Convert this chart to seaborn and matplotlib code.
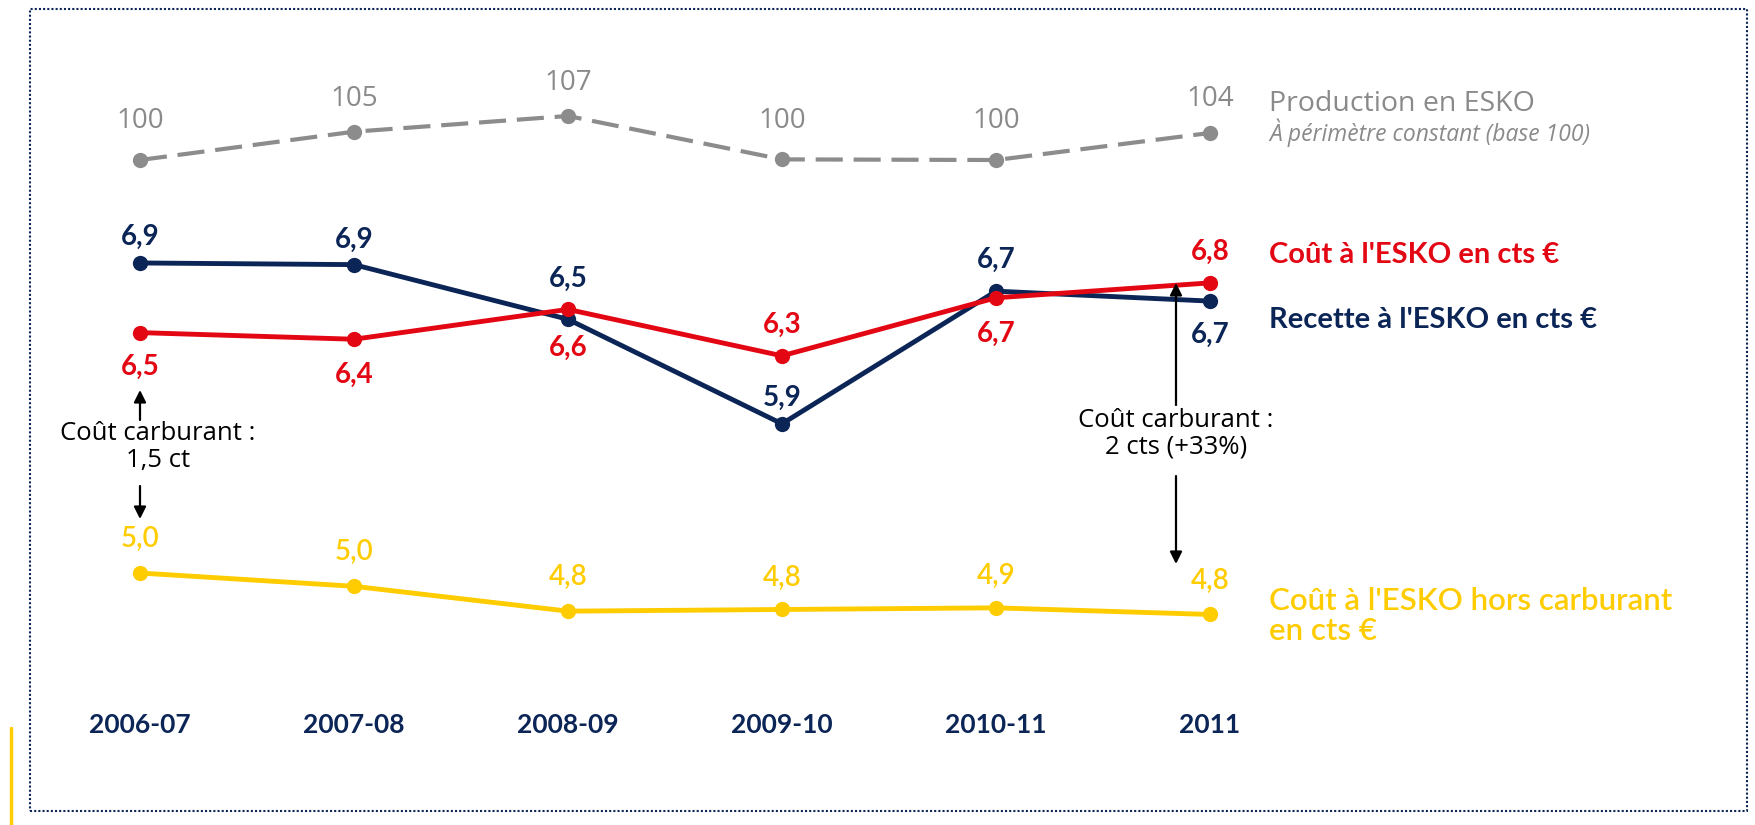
import pandas as pd
import seaborn as sns
import matplotlib.pyplot as plt
from matplotlib.patches import Rectangle, FancyArrowPatch
from matplotlib.lines import Line2D

# --------------------------------- données --------------------------------- #
PERIODES = ["2006-07", "2007-08", "2008-09", "2009-10", "2010-11", "2011"]

production = [100, 104.5, 107, 100.1, 100, 104.3]
production_labels = ["100", "105", "107", "100", "100", "104"]

recette = [6.90, 6.89, 6.56, 5.93, 6.73, 6.67]
recette_labels = ["6,9", "6,9", "6,5", "5,9", "6,7", "6,7"]

cout = [6.48, 6.44, 6.62, 6.34, 6.69, 6.78]
cout_labels = ["6,5", "6,4", "6,6", "6,3", "6,7", "6,8"]

cout_hors_carburant = [5.03, 4.95, 4.80, 4.81, 4.82, 4.78]
cout_hors_carburant_labels = ["5,0", "5,0", "4,8", "4,8", "4,9", "4,8"]

# -------------------------------- couleurs -------------------------------- #
NAVY = "#0b2557"
RED = "#e30613"
YELLOW = "#ffcc00"
GRAY = "#8c8c8c"
GRAY_TXT = "#8a8a8a"

W, H = 1756, 825

def px(x, y):
    # pixels (depuis le haut) -> fraction de la figure
    return (x / W, 1 - y / H)

df = pd.DataFrame({
    "idx": range(len(PERIODES)),
    "production": production,
    "recette": recette,
    "cout": cout,
    "cout_hc": cout_hors_carburant,
})

sns.set_theme(style="white")
plt.rcParams["font.family"] = ["Lato", "DejaVu Sans"]

fig = plt.figure(figsize=(W / 100, H / 100), dpi=100)
ax = fig.add_axes([0, 120 / H, 1, 705 / H])
ax.set_xlim(-0.654, 7.551)
ax.set_ylim(4.234, 8.486)

# production sur un second axe (base 100)
ax2 = ax.twinx()
ax2.set_ylim(13.35, 125.44)

# lignes
sns.lineplot(data=df, x="idx", y="production", ax=ax2, color=GRAY, linewidth=3,
             marker="o", markersize=11, markeredgewidth=0)
ax2.lines[0].set_linestyle((0, (6.5, 2.6)))

sns.lineplot(data=df, x="idx", y="recette", ax=ax, color=NAVY, linewidth=3.5,
             marker="o", markersize=11, markeredgewidth=0)
sns.lineplot(data=df, x="idx", y="cout", ax=ax, color=RED, linewidth=3.5,
             marker="o", markersize=11, markeredgewidth=0)
sns.lineplot(data=df, x="idx", y="cout_hc", ax=ax, color=YELLOW, linewidth=3.5,
             marker="o", markersize=11, markeredgewidth=0)

# étiquettes de valeurs (décalage en pixels, positif vers le haut)
def etiquettes(axe, valeurs, labels, decalages, couleur, **kw):
    for i, (v, lab, d) in enumerate(zip(valeurs, labels, decalages)):
        axe.annotate(lab, (i, v), xytext=(0, d), textcoords="offset pixels",
                     ha="center", va="center", color=couleur, **kw)

etiquettes(ax2, production, production_labels, [39, 33, 33, 38, 39, 34], GRAY_TXT,
           fontsize=20, fontweight="normal", family=["Open Sans", "DejaVu Sans"])
etiquettes(ax, recette, recette_labels, [26, 25, 40, 26, 31, -34], NAVY,
           fontsize=20, fontweight="bold")
etiquettes(ax, cout, cout_labels, [-34, -36, -38, 31, -36, 31], RED,
           fontsize=20, fontweight="bold")
etiquettes(ax, cout_hors_carburant, cout_hors_carburant_labels, [34, 34, 34, 32, 32, 34],
           YELLOW, fontsize=20, fontweight="semibold")

# axes
ax.set_xticks(range(len(PERIODES)))
ax.set_xticklabels(PERIODES, fontsize=19, fontweight="bold", color=NAVY)
ax.tick_params(axis="x", length=0, pad=6)
ax.set_yticks([])
ax2.set_yticks([])
ax.set_xlabel("")
ax.set_ylabel("")
ax2.set_ylabel("")
for a in (ax, ax2):
    for s in a.spines.values():
        s.set_visible(False)

# légendes des séries
fig.text(*px(1269, 104), "Production en ESKO", fontsize=20.5, color=GRAY_TXT,
         family=["Open Sans", "DejaVu Sans"], ha="left", va="center")
fig.text(*px(1269, 133), "À périmètre constant (base 100)", fontsize=16.5, color=GRAY_TXT,
         family=["Open Sans", "DejaVu Sans"], style="italic", ha="left", va="center")
fig.text(*px(1269, 255), "Coût à l'ESKO en cts €", fontsize=21, color=RED,
         fontweight="bold", ha="left", va="center")
fig.text(*px(1269, 320), "Recette à l'ESKO en cts €", fontsize=21, color=NAVY,
         fontweight="bold", ha="left", va="center")
fig.text(*px(1269, 616), "Coût à l'ESKO hors carburant\nen cts €", fontsize=22.5, color=YELLOW,
         fontweight="semibold", ha="left", va="center", linespacing=1.12)

# annotations coût carburant
fig.text(*px(158, 447), "Coût carburant :\n1,5 ct", fontsize=18.5, color="black",
         family=["Open Sans", "DejaVu Sans"], ha="center", va="center", linespacing=1.1)
fig.text(*px(1176, 434), "Coût carburant :\n2 cts (+33%)", fontsize=18.5, color="black",
         family=["Open Sans", "DejaVu Sans"], ha="center", va="center", linespacing=1.1)

fleche = dict(arrowstyle="-|>", color="black", lw=1.6, mutation_scale=18, shrinkA=0, shrinkB=0)
for tail, head in [((140, 420), (140, 390)), ((140, 486), (140, 519)),
                   ((1176, 405), (1176, 283)), ((1176, 476), (1176, 564))]:
    fig.add_artist(FancyArrowPatch(px(*tail), px(*head), transform=fig.transFigure, **fleche))

# cadre pointillé et trait jaune
fig.add_artist(Rectangle(px(30, 811), (1747 - 30) / W, (811 - 9) / H,
                         transform=fig.transFigure, fill=False, edgecolor=NAVY,
                         linewidth=1.5, linestyle=(0, (1, 1))))
fig.add_artist(Line2D([11 / W, 11 / W], [0, (825 - 728) / H], transform=fig.transFigure,
                      color=YELLOW, linewidth=2.5))

fig.savefig("out.png", dpi=100)
